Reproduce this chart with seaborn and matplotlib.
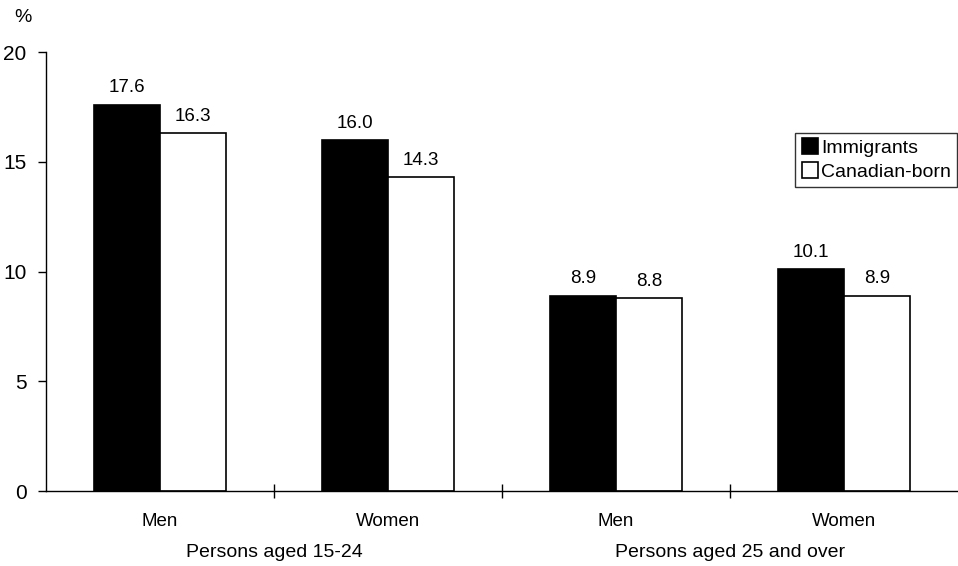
import matplotlib
matplotlib.use("Agg")
import matplotlib.pyplot as plt
import seaborn as sns
import pandas as pd
from matplotlib.lines import Line2D
from matplotlib.ticker import FixedLocator


# --------------------------------------------------
# Data
# --------------------------------------------------

category_keys = ["15-24 Men", "15-24 Women", "25+ Men", "25+ Women"]
category_labels = ["Men", "Women", "Men", "Women"]
group_labels = ["Persons aged 15-24", "Persons aged 25 and over"]

immigrants = [17.6, 16.0, 8.9, 10.1]
canadian_born = [16.3, 14.3, 8.8, 8.9]

series_names = ["Immigrants", "Canadian-born"]
series_colors = {"Immigrants": "black", "Canadian-born": "white"}

df = pd.DataFrame({
    "category": category_keys * 2,
    "series": [series_names[0]] * 4 + [series_names[1]] * 4,
    "value": immigrants + canadian_born,
})

sns.set_style("white")
plt.rcParams["font.family"] = ["Liberation Sans", "DejaVu Sans"]
plt.rcParams["text.color"] = "black"
plt.rcParams["xtick.color"] = "black"
plt.rcParams["ytick.color"] = "black"

fig = plt.figure(figsize=(9.58, 5.66), dpi=100)
ax = fig.add_axes([0.048, 0.1325, 0.952, 0.7755])

sns.barplot(
    data=df,
    x="category",
    y="value",
    hue="series",
    order=category_keys,
    hue_order=series_names,
    palette=series_colors,
    edgecolor="black",
    linewidth=1.2,
    width=0.58,
    gap=0,
    saturation=1,
    legend=False,
    ax=ax
)

for container in ax.containers:
    ax.bar_label(container, fmt="%.1f", padding=6, fontsize=13.5,
                 color="black")

ax.set_ylim(0, 20)
ax.set_xlim(-0.5, 3.5)
ax.set_yticks([0, 5, 10, 15, 20])
ax.set_xticks(range(4))
ax.set_xticklabels(category_labels, fontsize=13.5)
ax.tick_params(axis="y", labelsize=15, direction="out", length=6,
               width=1, left=True, pad=8)
ax.tick_params(axis="x", which="major", length=0, pad=16)
ax.xaxis.set_minor_locator(FixedLocator([0.5, 1.5, 2.5]))
ax.tick_params(axis="x", which="minor", direction="inout", length=10,
               width=1, bottom=True)

ax.set_xlabel("")
ax.set_ylabel("")

for side in ["top", "right"]:
    ax.spines[side].set_visible(False)
for side in ["left", "bottom"]:
    ax.spines[side].set_color("black")
    ax.spines[side].set_linewidth(1)

# group labels under the categories
for i, label in enumerate(group_labels):
    ax.text(0.5 + 2 * i, -0.139, label, transform=ax.get_xaxis_transform(),
            ha="center", va="center", fontsize=14)

fig.text(14 / 958, 1 - 18 / 566, "%", ha="left", va="center", fontsize=14)

handles = [
    Line2D([], [], marker="s", linestyle="none", markersize=11,
           markerfacecolor=series_colors[name], markeredgecolor="black",
           markeredgewidth=1.2, label=name)
    for name in series_names
]
legend = ax.legend(
    handles=handles,
    loc="upper left",
    bbox_to_anchor=((795 - 46) / 912, (491 - 133) / 439),
    bbox_transform=ax.transAxes,
    fontsize=14,
    frameon=True,
    fancybox=False,
    handletextpad=0.15,
    handlelength=0.9,
    borderpad=0.3,
    labelspacing=0.35,
    borderaxespad=0,
)
legend.get_frame().set_edgecolor("black")
legend.get_frame().set_linewidth(1)

fig.savefig("out.png", dpi=100)
